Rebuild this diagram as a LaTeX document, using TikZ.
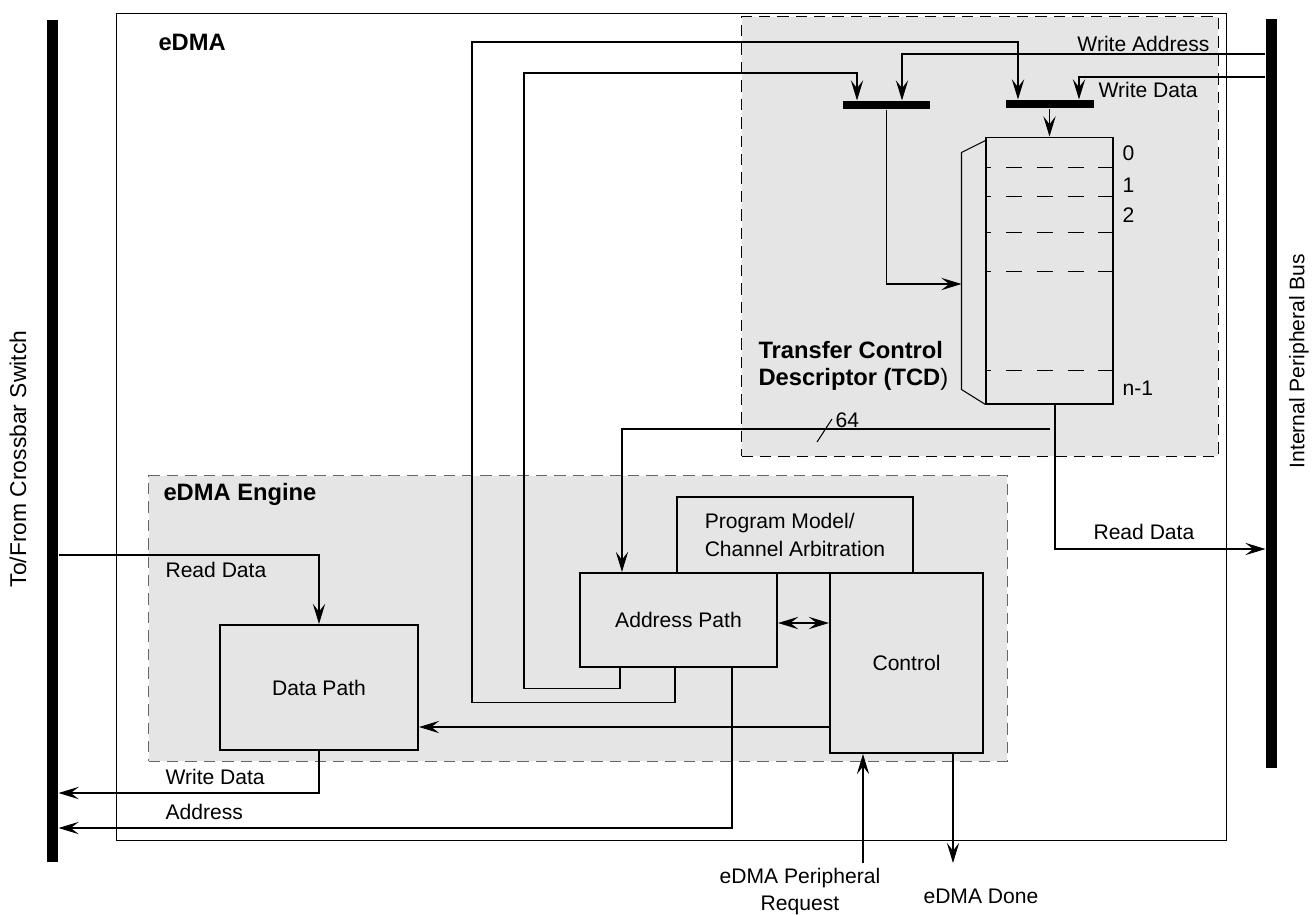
\documentclass[tikz,border=0pt]{standalone}
\usepackage{fontspec}
\setmainfont{Liberation Sans}
\usetikzlibrary{arrows.meta,calc,positioning}

\begin{document}
\begin{tikzpicture}[
  x=0.02cm, y=-0.02cm,
  font=\fontsize{12}{15.5}\selectfont,
  line width=0.6pt,
  >={Stealth[length=11.5pt,width=7pt,inset=4.5pt]},
  block/.style={draw, line width=1.2pt, fill=black!10, inner sep=0pt, align=left},
  zone/.style={draw, dash pattern=on 6.5pt off 4pt, fill=black!10, inner sep=0pt, anchor=north west},
  bus/.style={fill=black, inner sep=0pt, minimum width=0.22cm},
  mux/.style={fill=black, inner sep=0pt, minimum height=0.16cm},
  heading/.style={font=\fontsize{13.5}{15}\selectfont\bfseries, anchor=west, inner sep=0pt, align=left},
  lbl/.style={anchor=west, inner sep=0pt},
  row/.style={dash pattern=on 9pt off 8.5pt, dash phase=5.7pt}
]
\useasboundingbox (0,0) rectangle (1315,914);

% shaded regions and eDMA frame
\node[zone, minimum width=9.54cm, minimum height=8.8cm] (tcdzone) at (741,16) {};
\node[zone, draw=black!60, minimum width=17.18cm, minimum height=5.72cm] (engzone) at (148,475) {};
\node[draw, inner sep=0pt, anchor=north west, minimum width=22.2cm, minimum height=16.54cm] (edma) at (116,13) {};

% buses
\node[bus, minimum height=16.84cm] (xbar) at (52.5,441) {};
\node[bus, minimum height=14.98cm] (ipbus) at (1271.5,393.5) {};
\node[rotate=90, font=\fontsize{13}{15}\selectfont] (xbarlbl) at (18,459) {To/From Crossbar Switch};
\node[rotate=90] (ipbuslbl) at (1299,361) {Internal Peripheral Bus};

% headings
\node[heading] (edmalbl) at (158,42) {eDMA};
\node[heading] (tcdlbl) at (758,366) {Transfer Control\\Descriptor (TCD\textmd{)}};
\node[heading] (englbl) at (163,494) {eDMA Engine};

% TCD memory
\node[draw, inner sep=0pt, minimum width=2.54cm, minimum height=5.34cm] (mem) at (1049.5,270.5) {};
\draw ($(mem.north west)+(0,4)$) -- ++(-24,12) coordinate (selt)
  -- ++(0,237) coordinate (selb) -- (mem.south west);
\coordinate (sel) at (selt |- 0,284);
\foreach \dy in {31,60,96,135,234}
  \draw[row] ($(mem.north west)+(0,\dy)$) -- ($(mem.north east)+(0,\dy)$);
\node[lbl] (r0) at (1122,153) {0};
\node[lbl] (r1) at (1122,185) {1};
\node[lbl] (r2) at (1122,215) {2};
\node[lbl] (rn) at (1122,388) {n-1};

% write muxes
\node[mux, minimum width=1.74cm] (mux1) at (886.5,105) {};
\node[mux, minimum width=1.76cm] (mux2) at (1049.5,104) {};

% engine blocks
\node[block, minimum width=4.72cm, minimum height=1.52cm] (prog) at (795,535) {Program Model/\\Channel Arbitration};
\node[block, minimum width=3.94cm, minimum height=1.88cm, align=center] (ap) at (678.5,620) {Address Path};
\node[block, minimum width=3.06cm, minimum height=3.6cm, align=center] (ctrl) at (906.5,663) {Control};
\node[block, minimum width=3.96cm, minimum height=2.5cm, align=center] (dp) at (319,687.5) {Data Path};

% peripheral bus writes
\draw[->] (ipbus.west |- 0,54) -| ($(mux1.north)+(15.5,0)$);
\node[anchor=east, inner sep=0pt] (walbl) at (1210,44) {Write Address};
\draw[->] (ipbus.west |- 0,77) -| ($(mux2.north)+(29.5,0)$);
\node[lbl] (wdlbl) at (1098,90) {Write Data};

% address path feedback to muxes
\draw[->] ($(ap.south west)+(41,0)$) -- ++(0,20) -| (524,73) -| ($(mux1.north)+(-29.5,0)$);
\draw[->] ($(ap.south west)+(96,0)$) -- ++(0,34) -| (472,42) -| ($(mux2.north)+(-31.5,0)$);

% mux outputs
\draw[->] (mux2.south) -- (mem.north);
\draw[->] (mux1.south) |- (sel);

% TCD read side
\coordinate (rd) at ($(mem.south)+(5.5,0)$);
\draw[->] (rd) |- (ipbus.west |- 0,549);
\node[lbl] (rdlbl) at (1093,532) {Read Data};
\draw[->] ($(rd |- 0,429)+(-5,0)$) -| ($(ap.north west)+(43,0)$);
\draw (817,442) -- (832,419);
\node[lbl] (w64) at (835,420) {64};

% engine internals
\draw[<->, line width=1.2pt] (ap.east |- 0,623) -- (ctrl.west |- 0,623);
\draw[->] (ctrl.west |- 0,727) -- (dp.east |- 0,727);

% crossbar side
\draw[->] (xbar.east |- 0,555) -| (dp.north);
\node[lbl] (rdxlbl) at (165,570) {Read Data};
\draw[->] (dp.south) |- (xbar.east |- 0,793);
\node[lbl] (wdxlbl) at (165,777) {Write Data};
\draw[->] ($(ap.south west)+(153,0)$) |- (xbar.east |- 0,828);
\node[lbl] (adlbl) at (165,812) {Address};

% control handshakes
\coordinate (req) at (863,863);
\draw[->] (req) -- (req |- ctrl.south);
\node[align=center, inner sep=0pt] (reqlbl) at (800,891.5) {eDMA Peripheral\\Request};
\coordinate (done) at (953,863);
\draw[->] (done |- ctrl.south) -- (done);
\node[lbl] (donelbl) at (923,896) {eDMA Done};
\end{tikzpicture}
\end{document}
